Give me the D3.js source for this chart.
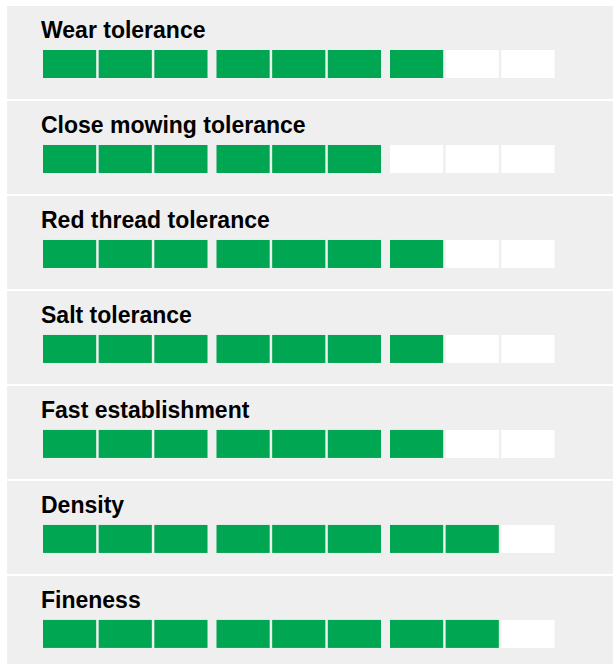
<!DOCTYPE html>
<html>
<head>
<meta charset="utf-8">
<script src="https://cdn.jsdelivr.net/npm/d3@7"></script>
<style>
  html, body { margin: 0; padding: 0; background: #fff; }
  text { font-family: "Liberation Sans", Arial, sans-serif; font-weight: bold; }
</style>
</head>
<body>
<script>
var width = 613;
var height = 664;

// the traits and their score out of 9
var traits = ["Wear tolerance", "Close mowing tolerance", "Red thread tolerance",
  "Salt tolerance", "Fast establishment", "Density", "Fineness"];
var scores = [7, 6, 7, 7, 7, 8, 8];
var maxScore = 9;
var groups = [0, 1, 2];      // three blocks of three cells
var cellsPerGroup = [0, 1, 2];

var rows = traits.map(function(t, i) { return {name: t, score: scores[i]}; });

var svg = d3.select("body")
  .append("svg")
  .attr("width", width)
  .attr("height", height);

// row positions
var y = d3.scaleBand()
  .domain(d3.range(traits.length))
  .range([6, 6 + 94.7 * traits.length])
  .paddingInner(2 / 94.7)
  .paddingOuter(0);

// block and cell positions
var gx = d3.scaleBand()
  .domain(groups)
  .range([43, 554.5])
  .paddingInner(18 / 347);

var cx = d3.scaleBand()
  .domain(cellsPerGroup)
  .range([0, gx.bandwidth()])
  .paddingInner(2.5 / ((gx.bandwidth() + 2.5) / 3));

var row = svg.selectAll("g.row")
  .data(rows)
  .enter()
  .append("g")
  .attr("class", "row")
  .attr("transform", function(d, i) { return "translate(0," + y(i) + ")"; });

// grey panel
row.append("rect")
  .attr("x", 7)
  .attr("y", 0)
  .attr("width", width - 7)
  .attr("height", y.bandwidth())
  .attr("fill", "#efefef");

// title
row.append("text")
  .attr("x", 41)
  .attr("y", 31.7)
  .attr("font-size", 23)
  .attr("fill", "#000")
  .text(function(d) { return d.name; });

// the nine cells
row.selectAll("rect.cell")
  .data(function(d) {
    return d3.range(maxScore).map(function(k) { return {k: k, on: k < d.score}; });
  })
  .enter()
  .append("rect")
  .attr("class", "cell")
  .attr("x", function(c) { return gx(Math.floor(c.k / 3)) + cx(c.k % 3); })
  .attr("y", 44)
  .attr("width", cx.bandwidth())
  .attr("height", 28)
  .attr("fill", function(c) { return c.on ? "#00a651" : "#ffffff"; });
</script>
</body>
</html>
